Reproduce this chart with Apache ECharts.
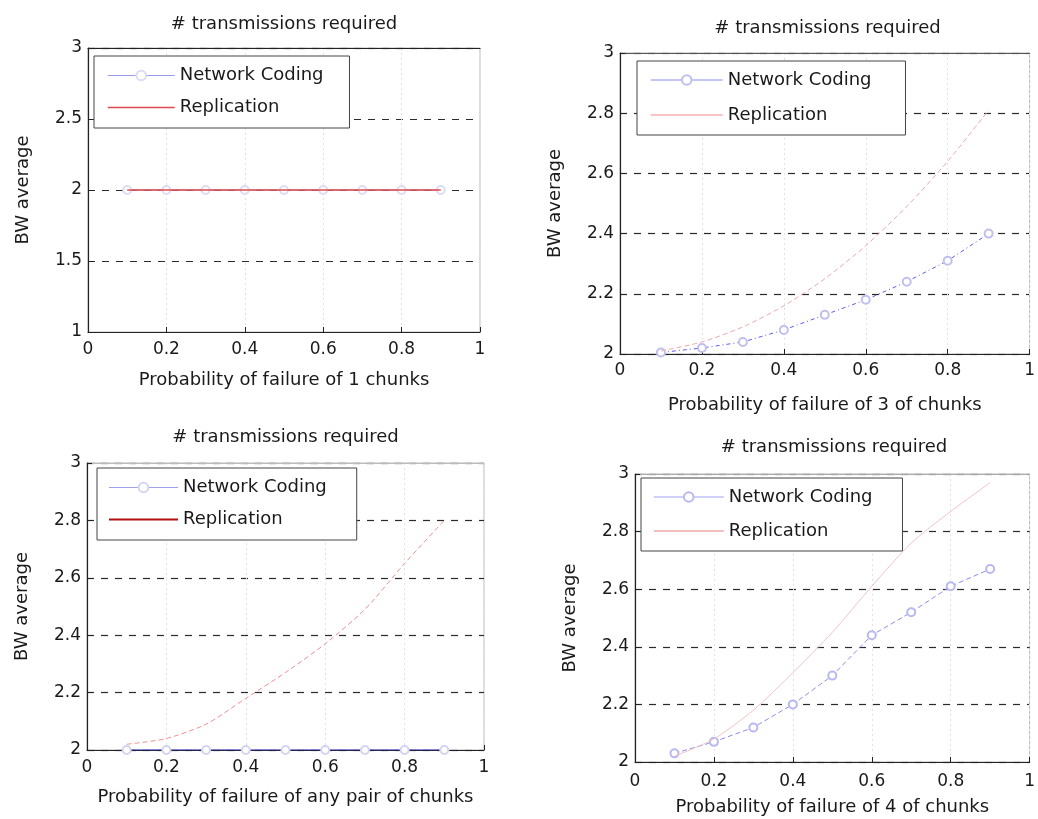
<!DOCTYPE html>
<html>
<head>
<meta charset="utf-8">
<script src="https://cdn.jsdelivr.net/npm/echarts@6/dist/echarts.min.js"></script>
<style>
  html, body { margin: 0; padding: 0; background: #fff; }
  #chart { width: 1038px; height: 819px; }
</style>
</head>
<body>
<div id="chart"></div>
<script>
// failure probabilities (x) shared by all four plots
const probs = [0.1, 0.2, 0.3, 0.4, 0.5, 0.6, 0.7, 0.8, 0.9];

// plot 1: failure of 1 chunk
const nc1 = [2, 2, 2, 2, 2, 2, 2, 2, 2];
const rep1 = [2, 2, 2, 2, 2, 2, 2, 2, 2];
// plot 2: failure of 3 of chunks
const nc2 = [2.005, 2.02, 2.04, 2.08, 2.13, 2.18, 2.24, 2.31, 2.40];
const rep2 = [2.01, 2.04, 2.09, 2.16, 2.25, 2.36, 2.49, 2.64, 2.81];
// plot 3: failure of any pair of chunks
const nc3 = [2, 2, 2, 2, 2, 2, 2, 2, 2];
const rep3 = [2.02, 2.04, 2.09, 2.18, 2.27, 2.37, 2.49, 2.65, 2.80];
// plot 4: failure of 4 of chunks
const nc4 = [2.03, 2.07, 2.12, 2.20, 2.30, 2.44, 2.52, 2.61, 2.67];
const rep4 = [2.02, 2.08, 2.18, 2.31, 2.45, 2.61, 2.76, 2.87, 2.97];

const titleText = "# transmissions required";
const yName = "BW average";
const xNames = [
  "Probability of failure of 1 chunks",
  "Probability of failure of 3 of chunks",
  "Probability of failure of any pair of chunks",
  "Probability of failure of 4 of chunks"
];
const legendNames = ["Network Coding", "Replication"];

const FONT = "DejaVu Sans";
const chart = echarts.init(document.getElementById("chart"));

// plot boxes in pixels
const boxes = [
  { left: 88, top: 48, width: 392, height: 284, yMin: 1, yStep: 0.5, xGap: 39, labGap: 9, topLine: "#222" },
  { left: 620, top: 53, width: 415, height: 301, yMin: 2, yStep: 0.2, xGap: 42, labGap: 8, topLine: "#555" },
  { left: 87, top: 463, width: 397, height: 287, yMin: 2, yStep: 0.2, xGap: 38, labGap: 9, topLine: "#bbb" },
  { left: 635, top: 474, width: 398, height: 288, yMin: 2, yStep: 0.2, xGap: 36, labGap: 11, topLine: "#aaa" }
];

const pairs = arr => probs.map((p, i) => [p, arr[i]]);
const fmt = v => String(Math.round(v * 10) / 10);

const grids = boxes.map(b => ({
  left: b.left, top: b.top, width: b.width, height: b.height,
  show: true, borderColor: "#bbb", borderWidth: 1, backgroundColor: "#fff"
}));

const xAxes = [];
boxes.forEach((b, i) => {
  xAxes.push({
    type: "value", gridIndex: i, min: 0, max: 1, interval: 0.2,
    name: xNames[i], nameLocation: "middle", nameGap: b.xGap,
    nameTextStyle: { fontFamily: FONT, fontSize: 18, color: "#1a1a1a" },
    axisLine: { onZero: false, lineStyle: { color: "#222", width: 1.2 } },
    axisTick: { inside: true, length: 5, lineStyle: { color: "#222" } },
    axisLabel: { margin: b.labGap, fontFamily: FONT, fontSize: 17, color: "#1a1a1a", formatter: fmt },
    splitLine: { show: true, lineStyle: { color: "#e2e2e2", type: [2, 3], width: 1 } }
  });
});
boxes.forEach((b, i) => {
  // top frame edge
  xAxes.push({
    type: "value", gridIndex: i, min: 0, max: 1, position: "top",
    axisLine: { onZero: false, lineStyle: { color: b.topLine, width: 1.2 } },
    axisTick: { show: false }, axisLabel: { show: false }, splitLine: { show: false }
  });
});

const yAxes = boxes.map((b, i) => ({
  type: "value", gridIndex: i, min: b.yMin, max: 3, interval: b.yStep,
  name: yName, nameLocation: "middle", nameGap: 56,
  nameTextStyle: { fontFamily: FONT, fontSize: 18, color: "#1a1a1a" },
  axisLine: { show: true, onZero: false, lineStyle: { color: "#222", width: 1.2 } },
  axisTick: { inside: true, length: 5, lineStyle: { color: "#222" } },
  axisLabel: { margin: 6, fontFamily: FONT, fontSize: 17, color: "#1a1a1a", formatter: fmt },
  splitLine: { show: true, lineStyle: { color: "#2a2a2a", type: [7, 7], width: 1.2 } }
}));

const titles = boxes.map((b, i) => ({
  text: titleText,
  left: b.left + b.width / 2, top: [15, 19, 428, 438][i],
  textAlign: "center", padding: 0,
  textStyle: { fontFamily: FONT, fontSize: 18, fontWeight: "normal", color: "#1a1a1a" }
}));

// per-plot line colours and dash patterns
const styles = [
  { ncLine: "#9a9af2", ncMark: "#dcdcf4", ncLegend: "#9a9af2", ncType: "solid", repLine: "#e04a4a", repW: 1.6, repType: "solid", repLegend: "#e04a4a" },
  { ncLine: "#5c5cee", ncMark: "#c0c0ee", ncLegend: "#8a8af0", ncType: [4, 3, 1, 3], repLine: "#eeaaaa", repW: 1, repType: [5, 3], repLegend: "#f2b0b0" },
  { ncLine: "#3535c8", ncMark: "#d4d4f2", ncLegend: "#a0a0ee", ncType: "solid", repLine: "#f09090", repW: 1, repType: [5, 3], repLegend: "#b01010" },
  { ncLine: "#8c8cf0", ncMark: "#b8b8f2", ncLegend: "#a0a0f0", ncType: [5, 3], repLine: "#f2c4c4", repW: 1, repType: "solid", repLegend: "#f0a8a8" }
];
const ncData = [nc1, nc2, nc3, nc4];
const repData = [rep1, rep2, rep3, rep4];

const series = [];
boxes.forEach((b, i) => {
  const s = styles[i];
  series.push({
    name: legendNames[0], type: "line", xAxisIndex: i, yAxisIndex: i,
    data: pairs(ncData[i]), symbol: "emptyCircle", symbolSize: 8,
    lineStyle: { color: s.ncLine, width: 1, type: s.ncType },
    itemStyle: { color: s.ncMark, borderColor: s.ncMark, borderWidth: 1 },
    z: 2, silent: true
  });
  series.push({
    name: legendNames[1], type: "line", xAxisIndex: i, yAxisIndex: i,
    data: pairs(repData[i]), symbol: "none", smooth: 0.25,
    lineStyle: { color: s.repLine, width: s.repW, type: s.repType },
    itemStyle: { color: s.repLine },
    z: 3, silent: true
  });
});

const legendBoxes = [
  { left: 94, top: 56, itemWidth: 67, gap: 13, lh: 19, pad: [10, 26, 11, 13] },
  { left: 637, top: 61, itemWidth: 72, gap: 15, lh: 20, pad: [9, 34, 10, 13] },
  { left: 97, top: 468, itemWidth: 69, gap: 13, lh: 19, pad: [10, 30, 11, 11] },
  { left: 641, top: 478, itemWidth: 70, gap: 14, lh: 20, pad: [9, 30, 10, 12] }
];
const legends = legendBoxes.map((l, i) => ({
  orient: "vertical", left: l.left, top: l.top,
  itemWidth: l.itemWidth, itemHeight: 12, itemGap: l.gap,
  padding: l.pad, backgroundColor: "#fff",
  borderColor: "#444", borderWidth: 1, selectedMode: false,
  textStyle: { fontFamily: FONT, fontSize: 18, color: "#1a1a1a", lineHeight: l.lh },
  data: [
    { name: legendNames[0], lineStyle: { color: styles[i].ncLegend, type: "solid", width: 1 },
      itemStyle: { color: styles[i].ncMark, borderColor: styles[i].ncMark } },
    { name: legendNames[1], lineStyle: { color: styles[i].repLegend, type: "solid", width: i === 2 ? 2 : 1.5 },
      itemStyle: { opacity: 0 } }
  ]
}));

chart.setOption({
  backgroundColor: "#fff",
  animation: false,
  title: titles,
  legend: legends,
  grid: grids,
  xAxis: xAxes,
  yAxis: yAxes,
  series: series
});
</script>
</body>
</html>
